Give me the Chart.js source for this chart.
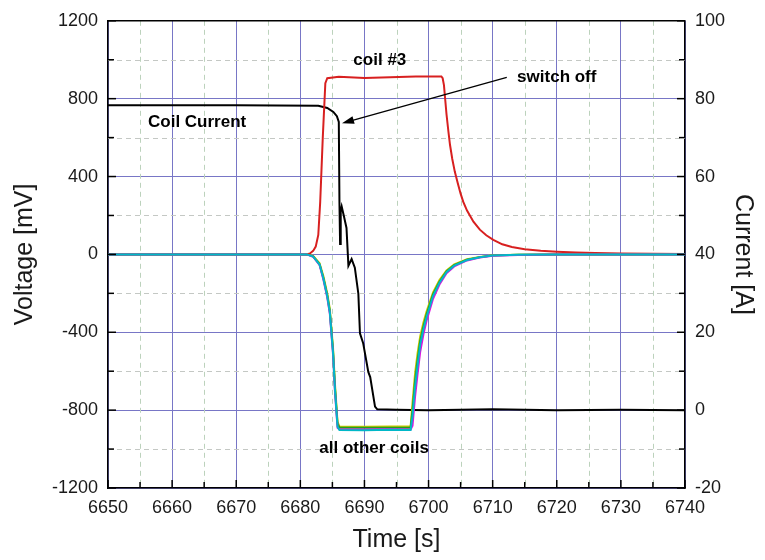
<!DOCTYPE html>
<html>
<head>
<meta charset="utf-8">
<script src="https://cdn.jsdelivr.net/npm/chart.js@4.4.1/dist/chart.umd.min.js"></script>
<style>
  html, body { margin: 0; padding: 0; background: #fff; }
</style>
</head>
<body>
<canvas id="chart" width="765" height="560"></canvas>
<script>
/* ============================================================
   Coil voltages + coil current around switch off
   ============================================================ */

// ── Data ──
const coilTime = [6650, 6681, 6682, 6683, 6683.6, 6684.2, 6684.6, 6685.1, 6685.4, 6685.8, 6686.1, 6690, 6694, 6697.2,
                  6697.5, 6697.9, 6698.3, 6698.7, 6699.2, 6699.7, 6700.7, 6701.7, 6702.8, 6704, 6706, 6708, 6710, 6714, 6720, 6740];
const coilGreen   = [0, 0, -10, -50, -121, -210, -291, -495, -683, -870, -890, -891, -890, -890,
                     -800, -649, -540, -444, -370, -308, -206, -140, -87, -55, -27, -14, -6, -2, 0, 0];
const coilYellow  = [0, 0, -8, -45, -112, -200, -280, -480, -665, -860, -884, -885, -884, -884,
                     -760, -610, -505, -420, -350, -292, -195, -132, -82, -51, -25, -13, -5, -2, 0, 0];
const coilCyan    = [0, 0, -11, -52, -125, -215, -298, -505, -695, -885, -902, -903, -901, -902,
                     -830, -680, -565, -462, -385, -320, -214, -146, -91, -58, -29, -15, -6, -2, 0, 0];
const coilMagenta = [0, 0, -12, -55, -130, -222, -305, -515, -705, -890, -898, -899, -898, -900,
                     -880, -730, -610, -500, -410, -340, -228, -155, -97, -62, -31, -16, -7, -3, -1, 0];

const coil3Time = [6650, 6681, 6681.5, 6682, 6682.4, 6682.8, 6683.1, 6683.5, 6683.9, 6684.2, 6686, 6690, 6694, 6698, 6702,
                   6702.2, 6702.4, 6702.8, 6703.1, 6703.35, 6703.7, 6704.1, 6704.6, 6705, 6705.4, 6706, 6707, 6708, 6709,
                   6710.1, 6711.5, 6713, 6715, 6717.5, 6720, 6723, 6726, 6730, 6735, 6740];
const coil3Volt = [0, 0, 5, 18, 40, 100, 270, 600, 880, 905, 912, 906, 910, 914, 914,
                   905, 870, 720, 630, 562, 490, 424, 360, 312, 271, 225, 168, 127, 98,
                   75, 52, 38, 27, 19, 14, 10, 7, 5, 3, 2];

const currentTime = [6650, 6670, 6682.8, 6684.2, 6685.15, 6685.7, 6686.0, 6686.1, 6686.2, 6686.3, 6686.45, 6686.8,
                     6687.2, 6687.5, 6688.0, 6688.5, 6689.05, 6689.3, 6689.8, 6690.6, 6690.9, 6691.65, 6692.0,
                     6695, 6700, 6710, 6720, 6730, 6740];
const currentAmp  = [78.3, 78.3, 78.2, 77.6, 76.6, 75.5, 74.0, 53.6, 42.7, 51.1, 52.3, 49.8,
                     46.8, 37.1, 38.8, 36.6, 29.9, 19.7, 17.2, 9.8, 8.5, 0.9, 0.2,
                     0.1, 0.0, 0.2, 0.0, 0.1, 0.0];

// tick labels
const timeTicks    = [6650, 6660, 6670, 6680, 6690, 6700, 6710, 6720, 6730, 6740];
const voltTicks    = [-1200, -800, -400, 0, 400, 800, 1200];
const currentTicks = [-20, 0, 20, 40, 60, 80, 100];

// annotations (data coords: time, mV)
const notes = [
  { text: "coil #3",         t: 6692.4, v: 996 },
  { text: "switch off",      t: 6720.0, v: 909 },
  { text: "Coil Current",    t: 6663.9, v: 679 },
  { text: "all other coils", t: 6691.5, v: -996 },
];
const arrowFrom = { t: 6712.2, v: 909 };
const arrowTo   = { t: 6686.5, v: 674 };

const FONT = "'Liberation Sans', Arial, sans-serif";
const pts = (xs, ys) => xs.map((x, i) => ({ x, y: ys[i] }));

// ── Plugin: minor dashed grid, inward ticks, top frame, notes ──
const framePlugin = {
  id: "frame",
  beforeDatasetsDraw(chart) {
    const { ctx, chartArea: a, scales: { x, y } } = chart;
    ctx.save();
    ctx.lineWidth = 1;
    ctx.setLineDash([5, 4]);
    ctx.strokeStyle = "#bcd2bc";
    x.ticks.forEach(t => {
      if (t.value % 10 === 0) return;
      const px = Math.round(x.getPixelForValue(t.value)) + 0.5;
      ctx.beginPath(); ctx.moveTo(px, a.top); ctx.lineTo(px, a.bottom); ctx.stroke();
    });
    ctx.strokeStyle = "#c4c8c4";
    y.ticks.forEach(t => {
      if (t.value % 400 === 0) return;
      const py = Math.round(y.getPixelForValue(t.value)) + 0.5;
      ctx.beginPath(); ctx.moveTo(a.left, py); ctx.lineTo(a.right, py); ctx.stroke();
    });
    ctx.restore();
  },
  afterDraw(chart) {
    const { ctx, chartArea: a, scales: { x, y, y2 } } = chart;
    ctx.save();
    ctx.strokeStyle = "#000";
    ctx.lineWidth = 1.5;
    ctx.setLineDash([]);

    // top frame
    ctx.beginPath(); ctx.moveTo(a.left, a.top); ctx.lineTo(a.right, a.top); ctx.stroke();

    // inward tick marks
    x.ticks.forEach(t => {
      const px = x.getPixelForValue(t.value);
      const len = t.value % 10 === 0 ? 8 : 6;
      ctx.beginPath(); ctx.moveTo(px, a.bottom); ctx.lineTo(px, a.bottom - len); ctx.stroke();
    });
    y.ticks.forEach(t => {
      const py = y.getPixelForValue(t.value);
      const len = t.value % 400 === 0 ? 8 : 6;
      ctx.beginPath(); ctx.moveTo(a.left, py); ctx.lineTo(a.left + len, py); ctx.stroke();
    });
    y2.ticks.forEach(t => {
      const py = y2.getPixelForValue(t.value);
      const len = t.value % 20 === 0 ? 8 : 6;
      ctx.beginPath(); ctx.moveTo(a.right, py); ctx.lineTo(a.right - len, py); ctx.stroke();
    });

    // arrow "switch off"
    const x0 = x.getPixelForValue(arrowFrom.t), y0 = y.getPixelForValue(arrowFrom.v);
    const x1 = x.getPixelForValue(arrowTo.t),   y1 = y.getPixelForValue(arrowTo.v);
    const ang = Math.atan2(y1 - y0, x1 - x0);
    ctx.lineWidth = 1.3;
    ctx.beginPath(); ctx.moveTo(x0, y0); ctx.lineTo(x1 - 10 * Math.cos(ang), y1 - 10 * Math.sin(ang)); ctx.stroke();
    ctx.fillStyle = "#000";
    ctx.beginPath();
    ctx.moveTo(x1, y1);
    ctx.lineTo(x1 - 12 * Math.cos(ang) + 4 * Math.sin(ang), y1 - 12 * Math.sin(ang) - 4 * Math.cos(ang));
    ctx.lineTo(x1 - 12 * Math.cos(ang) - 4 * Math.sin(ang), y1 - 12 * Math.sin(ang) + 4 * Math.cos(ang));
    ctx.closePath(); ctx.fill();

    // notes
    ctx.font = `bold 17px ${FONT}`;
    ctx.textAlign = "center";
    ctx.textBaseline = "middle";
    notes.forEach(n => ctx.fillText(n.text, x.getPixelForValue(n.t), y.getPixelForValue(n.v)));
    ctx.restore();
  }
};

// ── Chart ──
const lineSet = (label, data, color, axis = "y") => ({
  label, data, yAxisID: axis,
  borderColor: color, borderWidth: 2, pointRadius: 0, tension: 0, fill: false,
});

const MAJOR = "#7876c6";

new Chart(document.getElementById("chart"), {
  type: "line",
  data: {
    datasets: [
      lineSet("coil a", pts(coilTime, coilCyan), "#00b8c8"),
      lineSet("coil b", pts(coilTime, coilMagenta), "#e010e0"),
      lineSet("coil c", pts(coilTime, coilGreen), "#20a020"),
      lineSet("coil d", pts(coilTime, coilYellow), "#c8c800"),
      lineSet("coil #3", pts(coil3Time, coil3Volt), "#d82020"),
      lineSet("Coil Current", pts(currentTime, currentAmp), "#000000", "y2"),
    ]
  },
  plugins: [framePlugin],
  options: {
    responsive: false,
    devicePixelRatio: 1,
    animation: false,
    events: [],
    layout: { padding: { top: 18, left: 0, right: 0, bottom: 0 } },
    plugins: { legend: { display: false }, tooltip: { enabled: false } },
    scales: {
      x: {
        type: "linear", min: 6650, max: 6740,
        afterFit: s => { s.height = 72; },
        ticks: {
          stepSize: 5, autoSkip: false, maxRotation: 0, padding: 9,
          color: "#1a1a1a", font: { size: 18, family: FONT },
          callback: v => timeTicks.includes(v) ? v : ""
        },
        grid: {
          drawTicks: false,
          color: c => c.tick && c.tick.value % 10 === 0 ? MAJOR : "rgba(0,0,0,0)",
          lineWidth: 1
        },
        border: { display: true, color: "#000", width: 1.5 },
        title: { display: true, text: "Time [s]", color: "#1a1a1a", font: { size: 25, family: FONT }, padding: { bottom: 5 } }
      },
      y: {
        type: "linear", position: "left", min: -1200, max: 1200,
        afterFit: s => { s.width = 108; },
        ticks: {
          stepSize: 200, autoSkip: false, padding: 10,
          color: "#1a1a1a", font: { size: 18, family: FONT },
          callback: v => voltTicks.includes(v) ? v : ""
        },
        grid: {
          drawTicks: false,
          color: c => c.tick && c.tick.value % 400 === 0 ? MAJOR : "rgba(0,0,0,0)",
          lineWidth: 1
        },
        border: { display: true, color: "#000", width: 1.5 },
        title: { display: true, text: "Voltage [mV]", color: "#1a1a1a", font: { size: 25, family: FONT }, padding: { top: 10 } }
      },
      y2: {
        type: "linear", position: "right", min: -20, max: 100,
        afterFit: s => { s.width = 80; },
        ticks: {
          stepSize: 10, autoSkip: false, padding: 10,
          color: "#1a1a1a", font: { size: 18, family: FONT },
          callback: v => currentTicks.includes(v) ? v : ""
        },
        grid: { drawOnChartArea: false, drawTicks: false },
        border: { display: true, color: "#000", width: 1.5 },
        title: { display: true, text: "Current [A]", color: "#1a1a1a", font: { size: 25, family: FONT }, padding: { top: 7 } }
      }
    }
  }
});
</script>
</body>
</html>
